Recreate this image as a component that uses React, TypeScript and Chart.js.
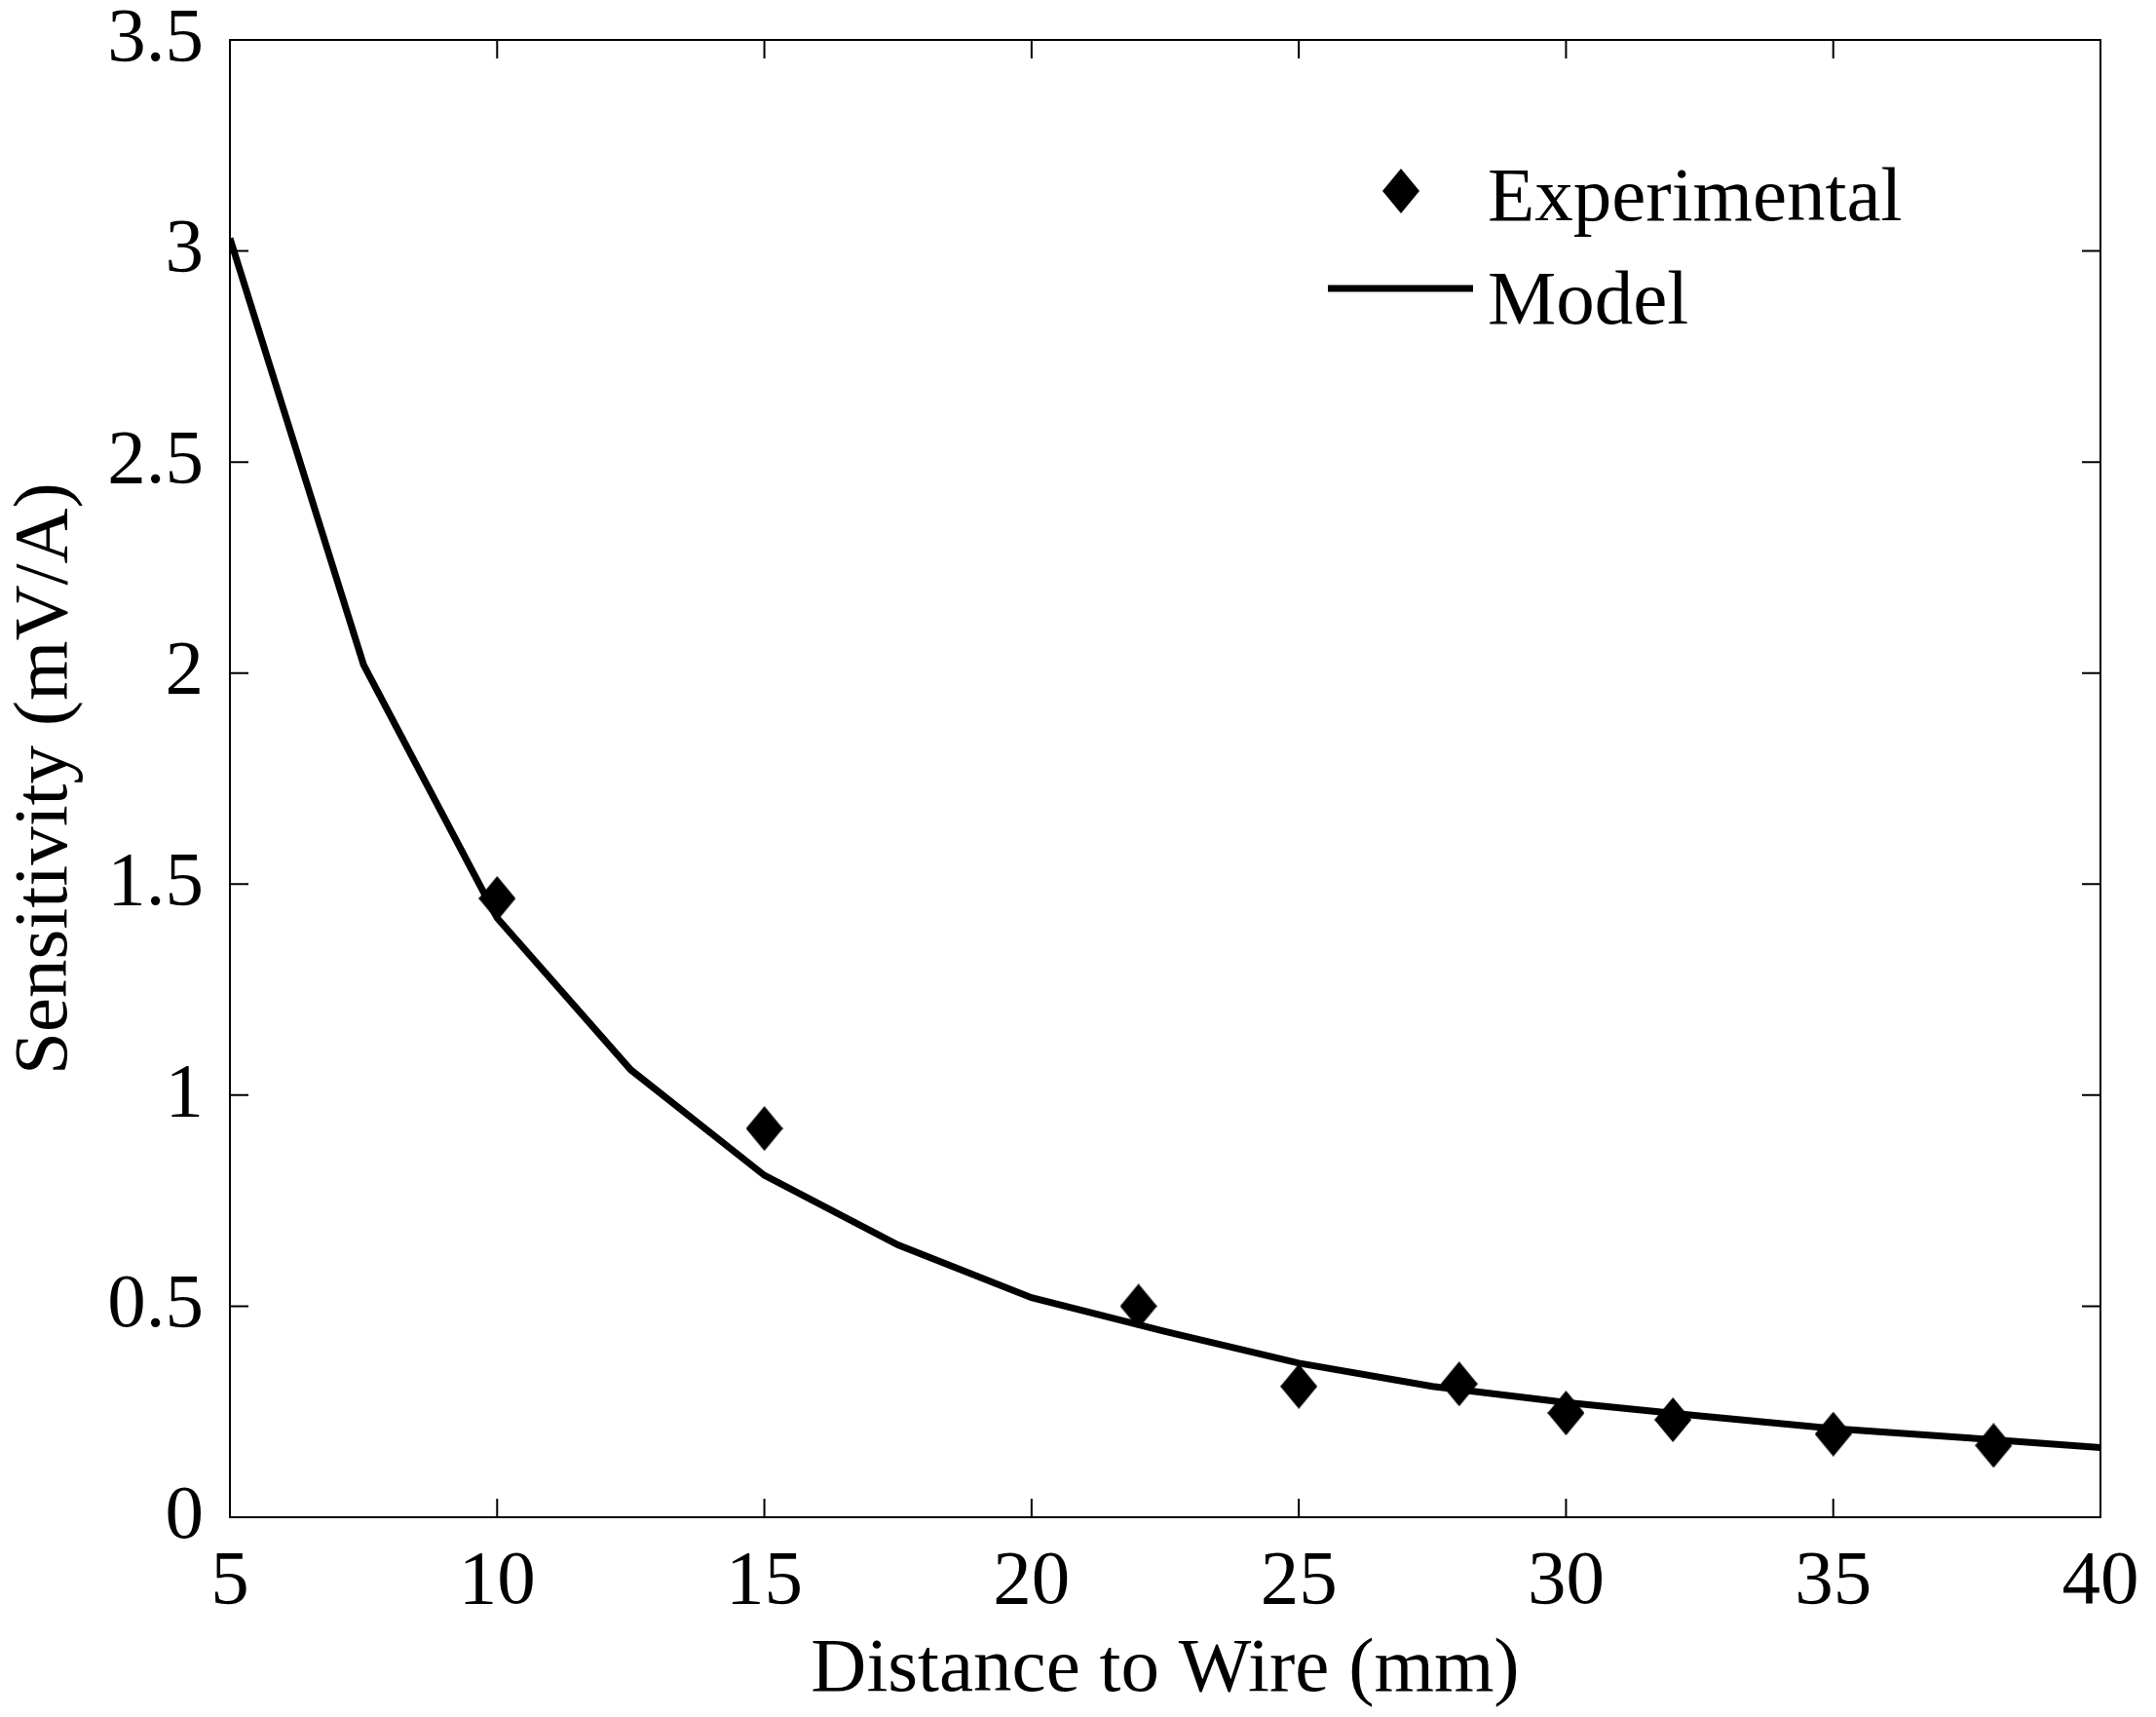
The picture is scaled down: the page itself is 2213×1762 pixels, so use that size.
import { useEffect, useRef } from "react"
import { Chart, registerables } from "chart.js"

Chart.register(...registerables)

const expDistance = [10, 15, 22, 25, 28, 30, 32, 35, 38]
const expSensitivity = [1.466, 0.921, 0.5, 0.31, 0.316, 0.247, 0.231, 0.197, 0.17]

const modelDistance = [5, 7.5, 10, 12.5, 15, 17.5, 20, 22.5, 25, 27.5, 30, 32.5, 35, 37.5, 40]
const modelSensitivity = [3.03, 2.02, 1.42, 1.06, 0.81, 0.645, 0.52, 0.44, 0.365, 0.31, 0.272, 0.24, 0.21, 0.188, 0.165]

const xTicks = [5, 10, 15, 20, 25, 30, 35, 40]
const yTicks = [0, 0.5, 1, 1.5, 2, 2.5, 3, 3.5]

const FONT = "'Liberation Serif', 'Times New Roman', serif"
const FONT_SIZE = 79

function makeDiamond(w: number, h: number) {
  const c = document.createElement("canvas")
  c.width = w
  c.height = h
  const ctx = c.getContext("2d")!
  ctx.fillStyle = "#000"
  ctx.beginPath()
  ctx.moveTo(w / 2, 0)
  ctx.lineTo(w, h / 2)
  ctx.lineTo(w / 2, h)
  ctx.lineTo(0, h / 2)
  ctx.closePath()
  ctx.fill()
  return c
}

// box with inward tick marks on all four sides (matlab style)
const boxPlugin = {
  id: "boxTicks",
  afterDatasetsDraw(chart: any) {
    const { ctx, chartArea } = chart
    const { left, right, top, bottom } = chartArea
    const xs = chart.scales.x
    const ys = chart.scales.y
    const len = 19
    ctx.save()
    ctx.strokeStyle = "#000"
    ctx.lineWidth = 2
    ctx.strokeRect(left, top, right - left, bottom - top)
    ctx.beginPath()
    xTicks.forEach((v) => {
      const px = xs.getPixelForValue(v)
      ctx.moveTo(px, bottom)
      ctx.lineTo(px, bottom - len)
      ctx.moveTo(px, top)
      ctx.lineTo(px, top + len)
    })
    yTicks.forEach((v) => {
      const py = ys.getPixelForValue(v)
      ctx.moveTo(left, py)
      ctx.lineTo(left + len, py)
      ctx.moveTo(right, py)
      ctx.lineTo(right - len, py)
    })
    ctx.stroke()
    ctx.restore()
  },
  afterDraw(chart: any) {
    const { ctx } = chart
    const ds = chart.data.datasets
    ctx.save()
    ctx.fillStyle = "#000"
    ctx.font = `${FONT_SIZE}px ${FONT}`
    ctx.textBaseline = "alphabetic"
    ctx.textAlign = "left"
    // Experimental entry
    const img = ds[0].pointStyle
    ctx.drawImage(img, 1438 - img.width / 2, 196 - img.height / 2)
    ctx.fillText(ds[0].label, 1527, 226)
    // Model entry
    ctx.strokeStyle = "#000"
    ctx.lineWidth = ds[1].borderWidth
    ctx.beginPath()
    ctx.moveTo(1363, 296)
    ctx.lineTo(1512, 296)
    ctx.stroke()
    ctx.fillText(ds[1].label, 1527, 332)
    ctx.restore()
  },
}

export default function App() {
  const chartRef = useRef<HTMLCanvasElement>(null)
  const chartInstance = useRef<Chart | null>(null)

  useEffect(() => {
    if (!chartRef.current) return
    if (chartInstance.current) chartInstance.current.destroy()

    const ctx = chartRef.current.getContext("2d")!
    const diamond = makeDiamond(38, 46)

    chartInstance.current = new Chart(ctx, {
      type: "scatter",
      data: {
        datasets: [
          {
            label: "Experimental",
            data: expDistance.map((x, i) => ({ x, y: expSensitivity[i] })),
            pointStyle: diamond as any,
            pointRadius: 20,
            backgroundColor: "#000",
            borderColor: "#000",
          },
          {
            label: "Model",
            data: modelDistance.map((x, i) => ({ x, y: modelSensitivity[i] })),
            showLine: true,
            borderColor: "#000",
            borderWidth: 7,
            pointRadius: 0,
            tension: 0,
          },
        ],
      },
      options: {
        animation: false,
        responsive: true,
        maintainAspectRatio: false,
        layout: { padding: { top: 41, right: 57, left: 0, bottom: 0 } },
        plugins: {
          legend: { display: false },
          tooltip: { enabled: false },
        },
        scales: {
          x: {
            type: "linear",
            min: 5,
            max: 40,
            grid: { display: false },
            border: { display: false },
            afterBuildTicks: (s: any) => {
              s.ticks = xTicks.map((v) => ({ value: v }))
            },
            afterFit: (s: any) => {
              s.height = 205
              s.paddingLeft = 0
              s.paddingRight = 0
            },
            ticks: {
              color: "#000",
              padding: 12,
              maxRotation: 0,
              callback: (v: any) => String(v),
              font: { family: FONT, size: FONT_SIZE },
            },
            title: {
              display: true,
              text: "Distance to Wire (mm)",
              color: "#000",
              padding: { top: 11, bottom: 0 },
              font: { family: FONT, size: FONT_SIZE },
            },
          },
          y: {
            type: "linear",
            min: 0,
            max: 3.5,
            grid: { display: false },
            border: { display: false },
            afterBuildTicks: (s: any) => {
              s.ticks = yTicks.map((v) => ({ value: v }))
            },
            afterFit: (s: any) => {
              s.width = 236
              s.paddingTop = 0
              s.paddingBottom = 0
            },
            ticks: {
              color: "#000",
              padding: 19,
              callback: (v: any) => String(v),
              font: { family: FONT, size: FONT_SIZE },
            },
            title: {
              display: true,
              text: "Sensitivity (mV/A)",
              color: "#000",
              padding: { top: 0, bottom: 0 },
              font: { family: FONT, size: FONT_SIZE },
            },
          },
        },
      },
      plugins: [boxPlugin],
    })

    return () => {
      if (chartInstance.current) {
        chartInstance.current.destroy()
        chartInstance.current = null
      }
    }
  }, [])

  return (
    <div style={{ position: "absolute", left: 0, top: 0, width: 2213, height: 1762, background: "#fff" }}>
      <canvas ref={chartRef} />
    </div>
  )
}
